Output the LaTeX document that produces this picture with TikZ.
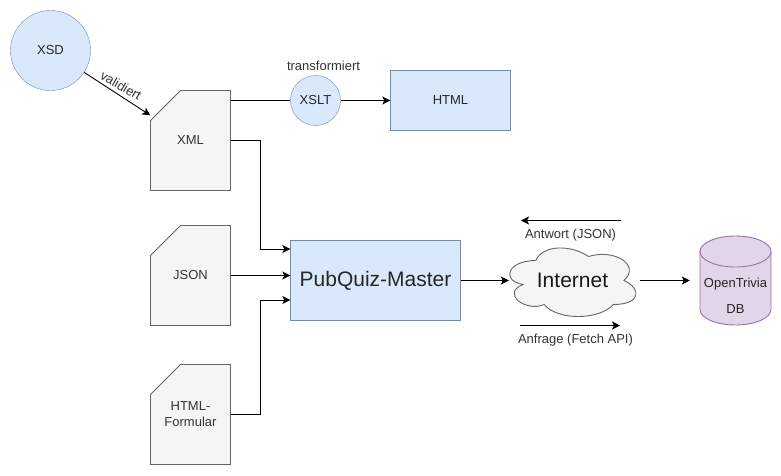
\documentclass[tikz,border=0pt]{standalone}
\usepackage{xcolor}
\usepackage{fontspec}
\setmainfont{Liberation Sans}
\usetikzlibrary{shapes.geometric, arrows.meta, positioning}

\definecolor{bluefill}{HTML}{DAE8FC}
\definecolor{blueline}{HTML}{6C8EBF}
\definecolor{docfill}{HTML}{F5F5F5}
\definecolor{docline}{HTML}{666666}
\definecolor{dbfill}{HTML}{E1D5E7}
\definecolor{dbline}{HTML}{9673A6}

\begin{document}
\begin{tikzpicture}[
    x=1pt, y=-1pt,
    circlenode/.style = {circle, draw=blueline, fill=bluefill, inner sep=0pt, font=\fontsize{13}{15}\selectfont, text=black!85},
    boxnode/.style = {rectangle, draw=blueline, fill=bluefill, inner sep=0pt, text=black!85},
    docshape/.style = {draw=docline, fill=docfill, line width=0.9pt},
    dbshape/.style = {draw=dbline, fill=dbfill, line width=0.9pt},
    docnode/.style = {rectangle, minimum width=80pt, minimum height=100pt, inner sep=0pt, align=center, text=black!80, font=\fontsize{13}{16}\selectfont},
    textnode/.style = {inner sep=0pt, text=black!80, font=\fontsize{13}{15}\selectfont},
    link/.style = {-{Stealth[length=8pt, width=8pt, inset=2pt]}, line width=0.9pt}
]

\useasboundingbox (0, 0) rectangle (781, 475);
\fill[white] (0, 0) rectangle (781, 475);

\draw[docshape] (180.5, 90.5) -- (230.5, 90.5) -- (230.5, 190.5) -- (150.5, 190.5) -- (150.5, 120.5) -- cycle;
\draw[docshape] (180.5, 225.5) -- (230.5, 225.5) -- (230.5, 325.5) -- (150.5, 325.5) -- (150.5, 255.5) -- cycle;
\draw[docshape] (180.5, 364.5) -- (230.5, 364.5) -- (230.5, 464.5) -- (150.5, 464.5) -- (150.5, 394.5) -- cycle;

\node [circlenode, minimum size=80pt] (xsd) at (50.5, 50.5) {XSD};
\node [docnode] (xml) at (190.5, 140.5) {XML};
\node [docnode] (json) at (190.5, 275.5) {JSON};
\node [docnode] (form) at (190.5, 414.5) {HTML-\\Formular};
\node [circlenode, minimum size=50pt] (xslt) at (315.5, 100.5) {XSLT};
\node [boxnode, minimum width=120pt, minimum height=60pt, font=\fontsize{13}{15}\selectfont] (html) at (450.5, 100.5) {HTML};
\node [boxnode, minimum width=170pt, minimum height=80pt, font=\fontsize{21}{25}\selectfont] (quiz) at (375.5, 280.5) {PubQuiz-Master};

\draw[docshape, x=1.41pt, y=-0.8pt, shift={(500.5pt, -240.5pt)}]
    (25, 25) .. controls (5, 25) and (0, 50) .. (16, 55)
    .. controls (0, 66) and (18, 90) .. (31, 80)
    .. controls (40, 100) and (70, 100) .. (80, 80)
    .. controls (100, 80) and (100, 60) .. (87.5, 50)
    .. controls (100, 30) and (80, 10) .. (62.5, 20)
    .. controls (50, 5) and (30, 5) .. (25, 25) -- cycle;
\node [inner sep=0pt, minimum width=127pt, minimum height=70pt, font=\fontsize{21}{25}\selectfont, text=black!90] (internet) at (572.5, 280.5) {Internet};

\draw[dbshape] (700, 251.5) arc[start angle=180, end angle=0, x radius=35.5pt, y radius=15.5pt] -- (771, 309.5) arc[start angle=0, end angle=-180, x radius=35.5pt, y radius=15.5pt] -- cycle;
\draw[dbshape] (700, 251.5) arc[start angle=180, end angle=360, x radius=35.5pt, y radius=15.5pt];
\node [inner sep=0pt, minimum width=71pt, align=center, text=black!85, font=\fontsize{13}{26}\selectfont] (opentrivia) at (735.5, 296) {OpenTrivia\\DB};

\node [textnode, rotate=-30] (validiert) at (121, 85.5) {validiert};
\node [textnode] (transformiert) at (323.5, 65.5) {transformiert};
\node [textnode] (antwort) at (570.5, 235.5) {Antwort (JSON)};
\node [textnode] (anfrage) at (575.5, 340.5) {Anfrage (Fetch API)};

\coordinate (antwortstart) at (621, 220.5);
\coordinate (antwortend) at (521, 220.5);
\coordinate (anfragestart) at (520, 325.5);
\coordinate (anfrageend) at (620, 325.5);
\coordinate (internetout) at (640, 280.5);

\draw[link] (xsd) -- ([yshift=-25pt]xml.north west);
\draw[line width=0.9pt] (xslt.west -| xml.east) -- (xslt);
\draw[link] (xslt) -- (html);
\draw[link] (xml.east) -- ++(29.5, 0) |- ([yshift=31.5pt]quiz.west);
\draw[link] (json.east) -- (quiz.west |- json.east);
\draw[link] (form.east) -- ++(29.5, 0) |- ([yshift=-19.5pt]quiz.west);
\draw[link] (quiz.east) -- (internet.west);
\draw[link, shorten >=10pt] (internetout) -- (opentrivia.west |- internetout);
\draw[link] (antwortstart) -- (antwortend);
\draw[link] (anfragestart) -- (anfrageend);

\end{tikzpicture}
\end{document}
